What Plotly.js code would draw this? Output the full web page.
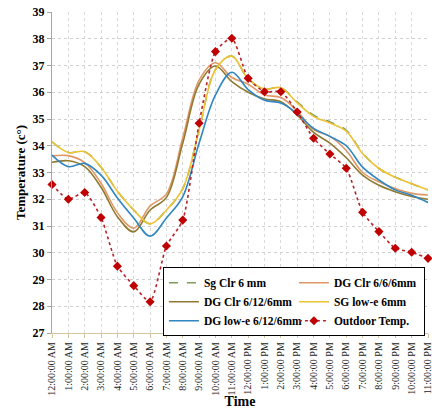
<!DOCTYPE html>
<html>
<head>
<meta charset="utf-8">
<script src="https://cdn.plot.ly/plotly-3.0.1.min.js"></script>
<style>
html,body{margin:0;padding:0;background:#fff;}
#chart{width:432px;height:409px;}
</style>
</head>
<body>
<div id="chart"></div>
<script>
var hours = ["12:00:00 AM","1:00:00 AM","2:00:00 AM","3:00:00 AM","4:00:00 AM","5:00:00 AM","6:00:00 AM","7:00:00 AM","8:00:00 AM","9:00:00 AM","10:00:00 AM","11:00:00 AM","12:00:00 PM","1:00:00 PM","2:00:00 PM","3:00:00 PM","4:00:00 PM","5:00:00 PM","6:00:00 PM","7:00:00 PM","8:00:00 PM","9:00:00 PM","10:00:00 PM","11:00:00 PM"];

var sgClr6 =      [34.15,33.75,33.78,33.20,32.30,31.60,31.08,31.60,32.40,34.60,36.85,37.35,36.50,36.12,36.17,35.64,35.14,34.89,34.58,33.72,33.15,32.82,32.58,32.35];
var dgClr666 =    [33.62,33.63,33.37,32.60,31.50,30.92,31.75,32.20,34.30,36.45,37.10,36.55,36.30,35.90,35.80,35.30,34.60,34.35,33.82,33.00,32.65,32.40,32.22,32.16];
var dgClr6126 =   [33.38,33.44,33.22,32.45,31.35,30.78,31.60,32.07,34.10,36.30,36.98,36.40,36.00,35.75,35.65,35.15,34.50,34.10,33.55,32.90,32.52,32.28,32.10,32.00];
var sgLowE6 =     [34.15,33.75,33.78,33.20,32.30,31.60,31.08,31.60,32.40,34.60,36.85,37.35,36.50,36.12,36.17,35.60,35.10,34.85,34.55,33.70,33.15,32.82,32.58,32.35];
var dgLowE6126 =  [33.65,33.22,33.34,32.90,32.05,31.30,30.62,31.30,32.10,34.10,35.90,36.75,36.10,35.70,35.60,35.20,34.65,34.35,34.00,33.20,32.72,32.35,32.15,31.88];
var outdoor =     [32.55,32.00,32.25,31.32,29.50,28.77,28.17,30.25,31.22,34.84,37.52,38.02,36.52,36.02,36.02,35.26,34.28,33.69,33.16,31.51,30.79,30.17,30.02,29.79];

var seriesNames = ["Sg Clr 6 mm","DG Clr 6/6/6mm","DG Clr 6/12/6mm","SG low-e 6mm","DG low-e 6/12/6mm","Outdoor Temp."];

var serif = "'Liberation Serif', 'Times New Roman', serif";

function line(name, y, color, dash) {
  return {
    type: 'scatter', mode: 'lines', name: name, x: hours, y: y,
    line: {color: color, width: 1.6, shape: 'spline', smoothing: 1, dash: dash || 'solid'},
    cliponaxis: false
  };
}

var traces = [
  line(seriesNames[0], sgClr6, '#7E9A5C', 'dash'),
  line(seriesNames[1], dgClr666, '#E09767'),
  line(seriesNames[2], dgClr6126, '#8F7A30'),
  line(seriesNames[3], sgLowE6, '#EDC233'),
  line(seriesNames[4], dgLowE6126, '#2F86C0'),
  {
    type: 'scatter', mode: 'lines+markers', name: seriesNames[5], x: hours, y: outdoor,
    line: {color: '#B8232A', width: 1.6, dash: 'dot', shape: 'spline', smoothing: 0.6},
    marker: {symbol: 'diamond', size: 7, color: '#C00000'},
    cliponaxis: false
  }
];

var layout = {
  width: 432, height: 409,
  margin: {l: 52, r: 4, t: 12, b: 76},
  paper_bgcolor: '#fff', plot_bgcolor: '#fff',
  showlegend: true,
  font: {family: serif, color: '#000'},
  xaxis: {
    type: 'category',
    range: [0, 23],
    tickangle: -90,
    tickfont: {family: serif, size: 10, color: '#222'},
    showgrid: true, gridcolor: '#D9D9D9', griddash: 'dot', gridwidth: 1,
    showline: true, linecolor: '#D6C6A0', linewidth: 1.2,
    ticks: 'outside', ticklen: 4, tickcolor: '#D6C6A0',
    zeroline: false,
    title: {text: '<b>Time</b>', font: {family: serif, size: 14, color: '#000'}, standoff: 2}
  },
  yaxis: {
    range: [27, 39], dtick: 1,
    tickfont: {family: serif, size: 12, color: '#000', weight: 'bold'},
    showgrid: true, gridcolor: '#D0D0D0', griddash: 'dot', gridwidth: 1,
    showline: true, linecolor: '#A6A6A6', linewidth: 1.2,
    ticks: 'outside', ticklen: 4, tickcolor: '#A6A6A6',
    zeroline: false,
    title: {text: '<b>Temperature (c°)</b>', font: {family: serif, size: 13, color: '#000'}, standoff: 3}
  },
  legend: {
    orientation: 'h',
    x: 0.295, xanchor: 'left',
    y: 0.205, yanchor: 'top',
    bgcolor: '#fff', bordercolor: '#000', borderwidth: 1,
    font: {family: serif, size: 11.5, color: '#000', weight: 'bold'},
    entrywidth: 85, entrywidthmode: 'pixels',
    tracegroupgap: 0
  }
};

Plotly.newPlot('chart', traces, layout, {displayModeBar: false, staticPlot: true});
</script>
</body>
</html>
